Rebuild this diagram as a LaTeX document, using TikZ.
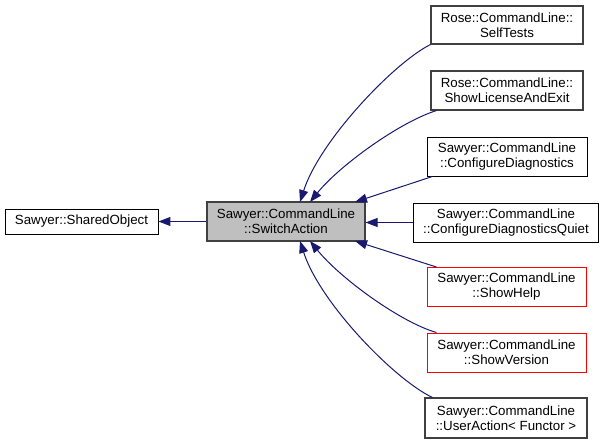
\documentclass[tikz,border=0pt]{standalone}
\usepackage{fontspec}
\setmainfont{Liberation Sans}
\usetikzlibrary{arrows.meta}
\definecolor{edgeblue}{HTML}{191970}
\definecolor{boxgray}{HTML}{404040}
\definecolor{fillgray}{HTML}{BFBFBF}
\tikzset{
  cls/.style={draw=black, line width=0.9pt, fill=white, inner sep=0pt, align=center,
    font=\fontsize{13.3}{15}\selectfont, text=black},
  gcls/.style={cls, draw=boxgray, line width=1.1pt},
  rcls/.style={cls, draw=red},
  inh/.style={draw=edgeblue, line width=1pt, -{Triangle[length=12pt,width=9pt]}, color=edgeblue}
}
\begin{document}
\begin{tikzpicture}[x=1pt,y=-1pt]
\useasboundingbox (0,0) rectangle (605,444);
\node[cls, minimum width=153pt, minimum height=25pt] (shared) at (81.5,221.5) {Sawyer::SharedObject};
\node[gcls, fill=fillgray, minimum width=158pt, minimum height=39pt] (switch) at (286,221.5) {Sawyer::CommandLine\\::SwitchAction};
\node[gcls, minimum width=152pt, minimum height=38pt] (selftests) at (507,25) {Rose::CommandLine::\\SelfTests};
\node[gcls, minimum width=152pt, minimum height=39pt] (license) at (507,90.5) {Rose::CommandLine::\\ShowLicenseAndExit};
\node[cls, minimum width=160pt, minimum height=39pt] (confdiag) at (507,156.5) {Sawyer::CommandLine\\::ConfigureDiagnostics};
\node[cls, minimum width=185pt, minimum height=39pt] (quiet) at (506,222.5) {Sawyer::CommandLine\\::ConfigureDiagnosticsQuiet};
\node[rcls, minimum width=159pt, minimum height=39pt] (showhelp) at (506.5,287) {Sawyer::CommandLine\\::ShowHelp};
\node[rcls, minimum width=159pt, minimum height=39pt] (showversion) at (506.5,352.5) {Sawyer::CommandLine\\::ShowVersion};
\node[gcls, minimum width=162pt, minimum height=40pt] (useraction) at (506,418) {Sawyer::CommandLine\\::UserAction\textless{} Functor \textgreater};

\coordinate (sw1) at (300,202);
\coordinate (sw2) at (310,202);
\coordinate (sw3) at (355,202);
\coordinate (sw5) at (355,241);
\coordinate (sw6) at (310,241);
\coordinate (sw7) at (300,241);

\draw[inh] (switch.west) -- (shared.east);
\draw[inh] (selftests.south west) .. controls (395,62) and (320,140) .. (sw1);
\draw[inh] ([xshift=6pt]license.south west) .. controls (400,122) and (340,165) .. (sw2);
\draw[inh] ([xshift=6pt]confdiag.south west) -- (sw3);
\draw[inh] (quiet.west) -- (switch.east |- quiet.west);
\draw[inh] ([xshift=10pt]showhelp.north west) -- (sw5);
\draw[inh] ([xshift=10pt]showversion.north west) .. controls (400,322) and (340,278) .. (sw6);
\draw[inh] ([xshift=8pt]useraction.north west) .. controls (395,380) and (320,303) .. (sw7);
\end{tikzpicture}
\end{document}
